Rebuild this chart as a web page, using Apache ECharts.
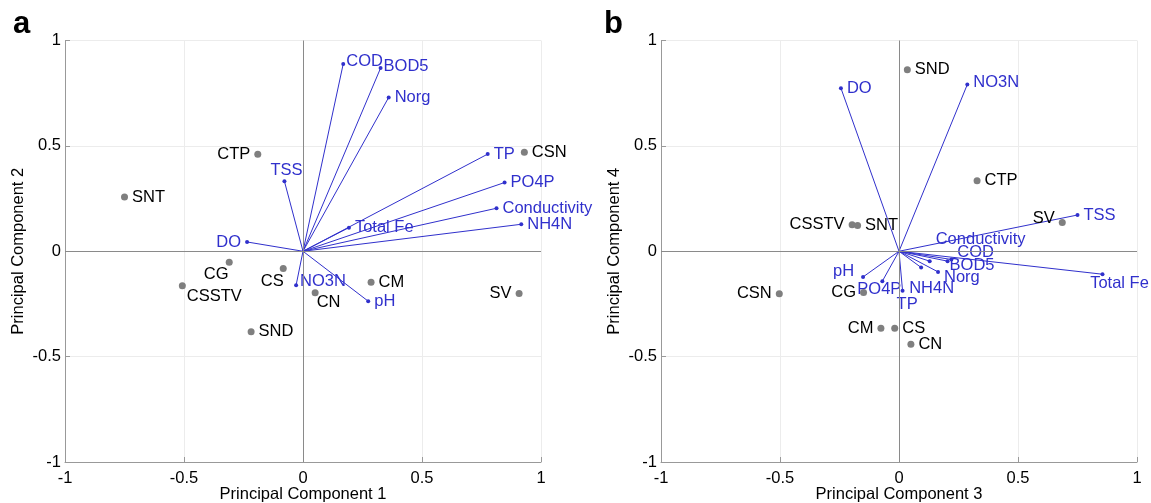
<!DOCTYPE html>
<html>
<head>
<meta charset="utf-8">
<script src="https://cdn.jsdelivr.net/npm/echarts@6/dist/echarts.min.js"></script>
<style>
  html, body { margin: 0; padding: 0; background: #fff; }
  #chart { width: 1151px; height: 503px; }
</style>
</head>
<body>
<div id="chart"></div>
<script>
// ---- panel a : PC1 vs PC2 ----
var sitesA = ['SNT', 'CTP', 'CSN', 'CG', 'CSSTV', 'CS', 'SND', 'CM', 'CN', 'SV'];
var sitesAx = [-0.75, -0.19, 0.93, -0.31, -0.507, -0.083, -0.218, 0.286, 0.051, 0.908];
var sitesAy = [0.257, 0.46, 0.47, -0.052, -0.164, -0.082, -0.382, -0.147, -0.197, -0.2];

var varsA = ['COD', 'BOD5', 'Norg', 'TP', 'PO4P', 'Conductivity', 'NH4N', 'Total Fe', 'TSS', 'DO', 'NO3N', 'pH'];
var varsAx = [0.169, 0.326, 0.36, 0.776, 0.847, 0.813, 0.917, 0.193, -0.078, -0.235, -0.029, 0.274];
var varsAy = [0.889, 0.869, 0.73, 0.461, 0.326, 0.204, 0.128, 0.112, 0.332, 0.044, -0.161, -0.237];

// ---- panel b : PC3 vs PC4 ----
var sitesB = ['SND', 'CTP', 'SV', 'CSSTV', 'SNT', 'CSN', 'CG', 'CM', 'CS', 'CN'];
var sitesBx = [0.035, 0.328, 0.686, -0.197, -0.174, -0.503, -0.149, -0.076, -0.018, 0.05];
var sitesBy = [0.861, 0.335, 0.137, 0.126, 0.122, -0.202, -0.196, -0.365, -0.365, -0.441];

var varsB = ['DO', 'NO3N', 'TSS', 'Total Fe', 'pH', 'PO4P', 'TP', 'NH4N', 'Norg', 'Conductivity', 'COD', 'BOD5'];
var varsBx = [-0.244, 0.287, 0.75, 0.855, -0.151, -0.07, 0.015, 0.093, 0.164, 0.129, 0.22, 0.204];
var varsBy = [0.774, 0.791, 0.172, -0.109, -0.122, -0.142, -0.188, -0.077, -0.098, -0.047, -0.039, -0.047];

var axisTicks = [-1, -0.5, 0, 0.5, 1];

// label placement (style only)
var labA = {
  CTP: ['left'], CG: ['bottom', [-13, -4]], CSSTV: ['right', [-3, 11]], CS: ['bottom', [-11, -3]],
  CN: ['right', [-6, 10]], SV: ['left'],
  COD: ['right', [-3, -2]], BOD5: ['right', [-3, -2]], TSS: ['top', [2, 4]], DO: ['left'],
  NO3N: ['right', [-2, -4]]
};
var labB = {
  SV: ['left', [0, -4]], CSSTV: ['left'], CSN: ['left'], CG: ['left'], CM: ['left'],
  Conductivity: ['right', [0, -22]], COD: ['right', [0, -7]], BOD5: ['right', [-4, 4]], Norg: ['right', [0, 6]],
  NH4N: ['right', [-18, 21]], TP: ['right', [-12, 14]], PO4P: ['right', [-31, 8]],
  pH: ['left', [-3, -6]], NO3N: ['right', [0, -2]], 'Total Fe': ['bottom', [17, -5]]
};

var BLUE = '#3030cc';
var GREY = '#7f7f7f';
var FONT = '"Liberation Sans", Arial, sans-serif';
var FS = 16.5;

function pts(names, xs, ys, lab) {
  return names.map(function (n, i) {
    var p = lab[n] || ['right'];
    return {
      name: n,
      value: [xs[i], ys[i]],
      label: { position: p[0], offset: p[1] || [0, 0] }
    };
  });
}

function vecs(xs, ys) {
  return xs.map(function (x, i) {
    return { coords: [[0, 0], [x, ys[i]]] };
  });
}

function mkAxis(idx, name, isY) {
  return {
    gridIndex: idx,
    type: 'value',
    min: -1, max: 1, interval: 0.5,
    name: name,
    nameLocation: 'middle',
    nameGap: isY ? 38 : 24,
    nameMoveOverlap: false,
    nameTextStyle: { color: '#000', fontSize: FS, fontFamily: FONT },
    axisLine: { show: true, onZero: false, lineStyle: { color: '#999', width: 1 } },
    axisTick: { show: true, inside: true, length: 5, lineStyle: { color: '#999' } },
    axisLabel: {
      color: '#000', fontSize: FS, fontFamily: FONT, margin: isY ? 4 : 8,
      formatter: function (v) { return axisTicks.indexOf(v) >= 0 ? String(v) : ''; }
    },
    splitLine: { show: true, lineStyle: { color: '#ececec', width: 1 } }
  };
}

function zeroLines(idx) {
  return {
    type: 'line', xAxisIndex: idx, yAxisIndex: idx, data: [], silent: true,
    markLine: {
      symbol: 'none', silent: true, label: { show: false },
      lineStyle: { color: '#8a8a8a', width: 1, type: 'solid' },
      data: [{ xAxis: 0 }, { yAxis: 0 }]
    }
  };
}

function vecSeries(idx, xs, ys) {
  return {
    type: 'lines', coordinateSystem: 'cartesian2d', xAxisIndex: idx, yAxisIndex: idx,
    silent: true, z: 3,
    lineStyle: { color: BLUE, width: 1, opacity: 1 },
    data: vecs(xs, ys)
  };
}

function tipSeries(idx, names, xs, ys, lab) {
  return {
    type: 'scatter', xAxisIndex: idx, yAxisIndex: idx, symbolSize: 4, z: 4,
    itemStyle: { color: BLUE, opacity: 1 },
    label: { show: true, formatter: '{b}', color: BLUE, fontSize: FS, fontFamily: FONT, distance: 4 },
    data: pts(names, xs, ys, lab)
  };
}

function siteSeries(idx, names, xs, ys, lab) {
  return {
    type: 'scatter', xAxisIndex: idx, yAxisIndex: idx, symbolSize: 7, z: 5,
    itemStyle: { color: GREY, opacity: 1 },
    label: { show: true, formatter: '{b}', color: '#000', fontSize: FS, fontFamily: FONT, distance: 4 },
    data: pts(names, xs, ys, lab)
  };
}

var chart = echarts.init(document.getElementById('chart'), null, { renderer: 'canvas' });
var option = {
  animation: false,
  backgroundColor: '#fff',
  title: [
    { text: 'a', left: 8, top: 4, textStyle: { fontSize: 31, fontWeight: 'bold', color: '#000', fontFamily: FONT } },
    { text: 'b', left: 599, top: 4, textStyle: { fontSize: 31, fontWeight: 'bold', color: '#000', fontFamily: FONT } }
  ],
  grid: [
    { left: 65, top: 40.5, width: 476, height: 421.5, outerBoundsMode: 'none', containLabel: false },
    { left: 661, top: 40.5, width: 476, height: 421.5, outerBoundsMode: 'none', containLabel: false }
  ],
  xAxis: [mkAxis(0, 'Principal Component 1', false), mkAxis(1, 'Principal Component 3', false)],
  yAxis: [mkAxis(0, 'Principal Component 2', true), mkAxis(1, 'Principal Component 4', true)],
  series: [
    zeroLines(0),
    vecSeries(0, varsAx, varsAy),
    tipSeries(0, varsA, varsAx, varsAy, labA),
    siteSeries(0, sitesA, sitesAx, sitesAy, labA),
    zeroLines(1),
    vecSeries(1, varsBx, varsBy),
    tipSeries(1, varsB, varsBx, varsBy, labB),
    siteSeries(1, sitesB, sitesBx, sitesBy, labB)
  ]
};
chart.setOption(option);
</script>
</body>
</html>
